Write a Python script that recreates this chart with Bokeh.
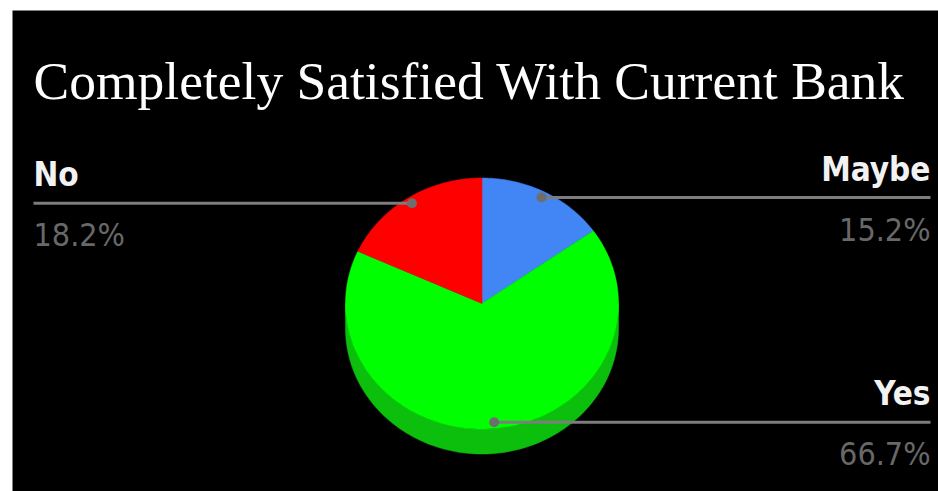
import numpy as np
from bokeh.plotting import figure
from bokeh.models import Range1d, ColumnDataSource
from bokeh.core.properties import value
from bokeh.embed import file_html
from bokeh.resources import INLINE

# ---- data ----
title_text = "Completely Satisfied With Current Bank"
categories = ["Maybe", "Yes", "No"]
values = [15.2, 66.7, 18.2]
pct_labels = ["15.2%", "66.7%", "18.2%"]
colors = ["#4285f4", "#00ff00", "#ff0000"]
side_colors = ["#2e62bf", "#0cbf0c", "#bf0000"]

# ---- layout constants (page pixels) ----
PAGE_H = 491
CX, CY = 481.5, PAGE_H - 303   # pie centre
RX, RY = 136.5, 125.5          # top ellipse radii
DEPTH = 25                     # 3D thickness
LEFT_X, RIGHT_X = 33, 930      # label edges
DOT_R = 0.95
SANS = value("'DejaVu Sans Condensed', 'Roboto Condensed', Roboto, sans-serif")
NAME_FS, PCT_FS = 33, 32

p = figure(width=926, height=481, x_range=Range1d(12, 938), y_range=Range1d(0, 481),
           output_backend="svg", toolbar_location=None, min_border=0,
           x_axis_location=None, y_axis_location=None,
           background_fill_color="black", border_fill_color="black",
           outline_line_color=None)
p.margin = (10, 0, 0, 12)
p.grid.visible = False

vals = np.array(values, dtype=float)
fr = vals / vals.sum()
ends = np.cumsum(fr) * 2 * np.pi
starts = ends - fr * 2 * np.pi

def pt(t, dy=0.0, r=1.0):
    return CX + r * RX * np.sin(t), CY + r * RY * np.cos(t) - dy

# side (visible lower half)
sx, sy, sc = [], [], []
for a0, a1, c in zip(starts, ends, side_colors):
    lo, hi = max(a0, np.pi / 2), min(a1, 3 * np.pi / 2)
    if hi <= lo:
        continue
    t = np.linspace(lo, hi, 120)
    x1, y1 = pt(t)
    x2, y2 = pt(t[::-1], DEPTH)
    sx.append(list(x1) + list(x2))
    sy.append(list(y1) + list(y2))
    sc.append(c)
if sx:
    p.patches(sx, sy, fill_color=sc, line_color=sc, line_width=0.5)

# top slices
tx, ty = [], []
for a0, a1 in zip(starts, ends):
    t = np.linspace(a0, a1, 150)
    x, y = pt(t)
    tx.append([CX] + list(x))
    ty.append([CY] + list(y))
p.patches(tx, ty, fill_color=colors, line_color=colors, line_width=0.5)

# leader lines, dots, labels
mids = (starts + ends) / 2
dx, dy = pt(mids, r=DOT_R)
left = dx < CX
lx0 = np.where(left, LEFT_X, dx)
lx1 = np.where(left, dx, RIGHT_X)
p.segment(x0=lx0, y0=dy, x1=lx1, y1=dy, line_color="#7d7d7d", line_width=3)
p.scatter(dx, dy, size=10, fill_color="#6e6e6e", line_color=None)

tx_pos = np.where(left, LEFT_X, RIGHT_X)
align = ["left" if l else "right" for l in left]
src = ColumnDataSource(dict(x=tx_pos, yn=dy + 16 + 0.37 * NAME_FS,
                            yp=dy - 44 + 0.37 * PCT_FS, name=categories,
                            pct=pct_labels, align=align))
p.text(x="x", y="yn", text="name", source=src, text_align="align",
       text_baseline="alphabetic", text_font=SANS,
       text_font_style="bold", text_font_size=f"{NAME_FS}px", text_color="#f2f2f2")
p.text(x="x", y="yp", text="pct", source=src, text_align="align",
       text_baseline="alphabetic", text_font=SANS,
       text_font_size=f"{PCT_FS}px", text_color="#686868")

# title
p.text(x=[33], y=[PAGE_H - 99 + 19], text=[title_text], text_align="left",
       text_baseline="alphabetic", text_font=value("Liberation Serif"),
       text_font_size="53.5px", text_color="#ffffff")

open("out.html", "w").write(file_html(p, INLINE))
